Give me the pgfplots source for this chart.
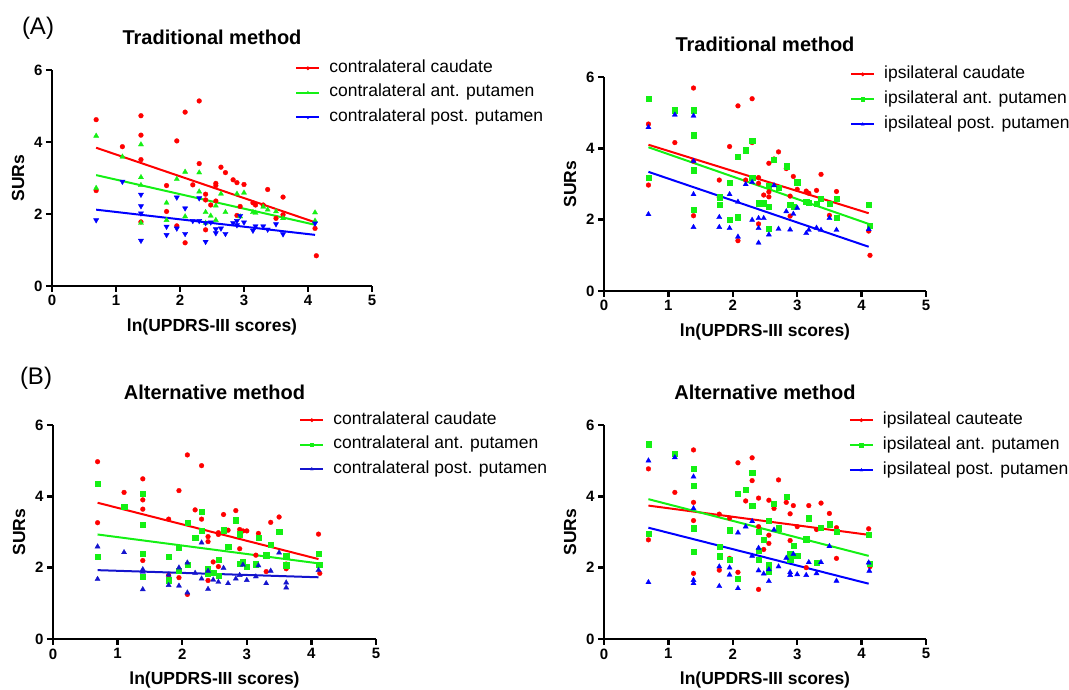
\documentclass[border=0pt]{standalone}
\usepackage{fontspec}
\setmainfont{Liberation Sans}
\usepackage{pgfplots}
\pgfplotsset{compat=1.18}

\definecolor{cred}{RGB}{255,0,0}
\definecolor{cgreen}{RGB}{20,240,20}
\definecolor{cblue}{RGB}{0,0,255}
\definecolor{cdblue}{RGB}{20,20,205}

\pgfplotsset{
  prism/.style={
    anchor=origin, clip=false,
    xmin=0, xmax=5, ymin=0, ymax=6,
    xtick={0,1,2,3,4,5}, ytick={0,2,4,6},
    axis x line*=bottom, axis y line*=left,
    axis line style={-, line width=2.4pt},
    tick align=outside, major tick length=6pt,
    every tick/.style={black, line width=2.4pt},
    tick label style={font=\fontsize{15}{15}\selectfont\bfseries},
    /pgf/number format/assume math mode=true,
    xlabel={ln(UPDRS-III scores)}, ylabel={SURs},
    every axis x label/.style={at={([yshift=-41pt]axis cs:2.5,0)}, anchor=center,
      font=\fontsize{17.5}{18}\selectfont\bfseries},
    every axis y label/.style={at={([xshift=-34pt]axis cs:0,3)}, anchor=center, rotate=90,
      font=\fontsize{17.5}{18}\selectfont\bfseries},
    every axis title/.style={at={([yshift=32.5pt]axis cs:2.5,6)}, anchor=center,
      font=\fontsize{20}{20}\selectfont\bfseries},
    legend cell align=left,
    legend style={draw=none, fill=none, anchor=north west, inner sep=0pt,
      font=\fontsize{17.5}{20}\selectfont, column sep=7pt, row sep=4.5pt,
      nodes={inner sep=2pt, text height=12pt, text depth=4pt}},
  },
  pts/.style={forget plot, only marks, mark=*, mark size=2.4pt, #1, mark options={fill=#1, draw=#1, line width=0.3pt}},
  regline/.style 2 args={#1, line width=2pt, no marks,
    legend image code/.code={\draw[draw=#1, line width=2pt] (0pt,0pt) -- (23pt,0pt);
      \draw[draw=#1, fill=#1, line width=0.3pt] plot[mark=#2, mark size=1.8pt] coordinates {(11.5pt,0pt)};}},
}

\begin{document}
\begin{tikzpicture}
\useasboundingbox (0,0) rectangle (1069pt,690pt);

\node[font=\fontsize{24}{24}\selectfont] at (38pt,662pt) {(A)};
\node[font=\fontsize{24}{24}\selectfont] at (36pt,312pt) {(B)};

% (A) contralateral, traditional
\begin{axis}[prism, x=64pt, y=36pt, at={(52pt,404pt)},
  title={Traditional method},
  legend style={at={(axis cs:3.80,6.33)}}]
\addplot[pts=cred] coordinates {
(0.69,4.62) (0.69,2.65) (1.10,3.87) (1.39,4.73) (1.39,4.19) (1.39,3.51) (1.39,1.78)
(1.79,2.79) (1.79,2.07) (1.95,4.03) (1.95,1.67) (2.08,4.83) (2.08,1.20) (2.20,2.81)
(2.30,5.14) (2.30,3.40) (2.40,2.55) (2.40,2.39) (2.40,1.56) (2.48,2.25) (2.56,2.85)
(2.56,2.79) (2.56,2.36) (2.64,3.30) (2.71,3.15) (2.83,2.95) (2.89,2.87) (2.94,2.21)
(2.89,1.96) (3.00,2.82) (3.14,2.31) (3.18,2.25) (3.30,2.25) (3.37,2.68) (3.50,1.88)
(3.61,2.47) (3.61,1.98) (4.11,1.60) (4.13,0.84)};
\addplot[pts=cgreen, mark=triangle*, mark size=3pt] coordinates {
(0.69,4.17) (0.69,2.72) (1.10,3.59) (1.39,3.93) (1.39,3.02) (1.39,2.80) (1.39,1.75)
(1.79,2.31) (1.79,1.83) (1.95,2.97) (2.08,3.17) (2.08,1.93) (2.30,3.15) (2.30,2.62)
(2.40,2.05) (2.40,1.75) (2.48,1.95) (2.56,2.23) (2.56,1.83) (2.64,2.56) (2.71,2.05)
(2.89,2.56) (2.94,1.93) (3.00,2.59) (3.14,2.05) (3.18,2.03) (3.30,2.20) (3.37,2.12)
(3.50,2.07) (3.61,1.88) (4.11,2.04) (4.11,1.81)};
\addplot[pts=cblue, mark=triangle*, mark size=3pt, mark options={rotate=180}] coordinates {
(0.69,1.83) (1.10,2.90) (1.39,2.54) (1.39,2.22) (1.39,2.02) (1.39,1.26) (1.79,1.65)
(1.79,1.42) (1.95,2.46) (1.95,1.60) (2.08,2.16) (2.08,1.45) (2.20,1.81) (2.30,2.44)
(2.30,1.81) (2.40,1.75) (2.40,1.23) (2.48,1.77) (2.56,1.58) (2.56,1.47) (2.64,1.60)
(2.71,1.45) (2.83,1.75) (2.89,1.81) (2.89,1.69) (2.94,1.95) (3.00,1.77) (3.14,1.54)
(3.18,1.66) (3.30,1.66) (3.37,1.57) (3.50,1.72) (3.61,1.44) (4.11,1.74)};
\addplot[regline={cred}{*}] coordinates {(0.69,3.84) (4.11,1.77)};
\addlegendentry{contralateral caudate}
\addplot[regline={cgreen}{triangle*}] coordinates {(0.69,3.08) (4.11,1.70)};
\addlegendentry{contralateral ant. putamen}
\addplot[regline={cblue}{triangle*, mark options={rotate=180}}] coordinates {(0.69,2.12) (4.11,1.42)};
\addlegendentry{contralateral post. putamen}
\end{axis}

% (A) ipsilateral, traditional
\begin{axis}[prism, x=64.4pt, y=35.67pt, at={(604pt,399pt)},
  title={Traditional method},
  legend style={at={(axis cs:3.82,6.36)}, row sep=5pt}]
\addplot[pts=cred] coordinates {
(0.69,4.68) (0.69,2.97) (1.10,4.16) (1.39,5.69) (1.39,3.64) (1.39,3.36) (1.39,2.11)
(1.79,3.11) (1.79,2.63) (1.95,4.05) (1.95,1.99) (2.08,5.19) (2.08,1.41) (2.20,3.11)
(2.30,5.39) (2.30,4.16) (2.40,3.18) (2.40,3.02) (2.40,1.88) (2.48,2.69) (2.56,3.58)
(2.56,2.78) (2.56,2.64) (2.64,3.70) (2.71,3.90) (2.83,3.43) (2.89,2.66) (2.89,2.10)
(2.94,3.21) (3.00,2.85) (3.14,2.80) (3.18,2.74) (3.30,2.82) (3.37,3.27) (3.50,2.12)
(3.61,2.79) (3.61,2.58) (4.11,1.68) (4.13,1.00)};
\addplot[pts=cgreen, mark=square*, mark size=2.6pt] coordinates {
(0.69,5.39) (0.69,3.17) (1.10,5.07) (1.39,5.07) (1.39,4.37) (1.39,3.39) (1.39,2.29)
(1.79,2.43) (1.79,2.63) (1.95,3.04) (1.95,2.01) (2.08,3.77) (2.08,2.07) (2.20,3.95)
(2.30,4.22) (2.30,3.18) (2.40,2.46) (2.48,2.46) (2.56,2.96) (2.56,2.36) (2.56,1.74)
(2.64,3.69) (2.71,2.90) (2.83,3.50) (2.89,2.42) (2.94,2.37) (3.00,3.05) (3.14,2.50)
(3.18,2.48) (3.30,2.44) (3.37,2.58) (3.50,2.44) (3.61,2.59) (3.61,2.06) (4.11,2.43)
(4.12,1.83)};
\addplot[pts=cblue, mark=triangle*, mark size=3pt] coordinates {
(0.69,4.59) (0.69,2.15) (1.10,4.94) (1.39,4.91) (1.39,3.64) (1.39,2.71) (1.39,1.79)
(1.79,2.07) (1.79,1.79) (1.95,2.71) (1.95,1.76) (2.08,2.50) (2.08,1.52) (2.20,2.99)
(2.30,3.05) (2.30,1.99) (2.40,2.04) (2.40,1.76) (2.40,1.35) (2.48,2.04) (2.56,1.58)
(2.64,2.96) (2.71,1.74) (2.83,2.23) (2.89,1.72) (2.94,2.16) (3.00,2.33) (3.14,1.62)
(3.18,1.71) (3.30,1.77) (3.37,1.71) (3.50,2.04) (3.61,1.71) (4.11,1.73)};
\addplot[regline={cred}{*}] coordinates {(0.69,4.10) (4.11,2.18)};
\addlegendentry{ipsilateral caudate}
\addplot[regline={cgreen}{square*}] coordinates {(0.69,4.03) (4.11,1.88)};
\addlegendentry{ipsilateral ant. putamen}
\addplot[regline={cblue}{triangle*}] coordinates {(0.69,3.34) (4.11,1.24)};
\addlegendentry{ipsilateal post. putamen}
\end{axis}

% (B) contralateral, alternative
\begin{axis}[prism, x=64.6pt, y=35.67pt, at={(53pt,51pt)},
  title={Alternative method},
  legend style={at={(axis cs:3.81,6.42)}}]
\addplot[pts=cred] coordinates {
(0.69,4.97) (0.69,3.26) (1.10,4.11) (1.39,4.49) (1.39,3.90) (1.39,3.64) (1.39,2.20)
(1.79,3.36) (1.79,1.79) (1.95,4.16) (1.95,1.72) (2.08,5.16) (2.08,1.25) (2.20,3.62)
(2.30,4.86) (2.30,3.36) (2.40,2.87) (2.40,2.73) (2.40,1.64) (2.48,2.16) (2.56,2.98)
(2.56,2.93) (2.56,2.03) (2.64,3.49) (2.71,3.05) (2.83,3.60) (2.89,3.07) (2.89,2.53)
(2.94,3.03) (3.00,3.03) (3.14,2.35) (3.18,2.96) (3.30,1.89) (3.37,3.27) (3.50,3.42)
(3.61,2.10) (3.61,1.97) (4.11,2.94) (4.13,1.84)};
\addplot[pts=cgreen, mark=square*, mark size=2.6pt] coordinates {
(0.69,4.35) (0.69,2.31) (1.10,3.71) (1.39,4.07) (1.39,3.21) (1.39,2.39) (1.39,1.75)
(1.79,2.31) (1.79,1.65) (1.95,2.57) (1.95,1.92) (2.08,3.27) (2.08,2.09) (2.20,2.85)
(2.30,3.57) (2.30,3.03) (2.40,1.97) (2.40,1.84) (2.48,1.87) (2.56,2.23) (2.56,1.78)
(2.64,3.05) (2.71,2.59) (2.83,3.33) (2.89,2.94) (2.89,2.12) (2.94,2.16) (3.00,2.03)
(3.14,2.10) (3.18,2.84) (3.30,2.35) (3.37,2.64) (3.50,3.02) (3.61,2.32) (3.61,2.07)
(4.11,2.40) (4.12,2.08)};
\addplot[pts=cdblue, mark=triangle*, mark size=3pt] coordinates {
(0.69,2.59) (0.69,1.68) (1.10,2.43) (1.39,1.95) (1.39,1.88) (1.39,1.39) (1.79,1.80)
(1.79,1.51) (1.95,2.00) (1.95,1.49) (2.08,2.14) (2.08,1.30) (2.20,1.85) (2.30,2.70)
(2.30,1.69) (2.40,1.91) (2.40,1.40) (2.48,1.66) (2.56,1.60) (2.64,1.99) (2.71,1.56)
(2.83,1.69) (2.89,1.79) (2.94,2.08) (3.00,1.65) (3.14,1.75) (3.18,2.06) (3.30,1.56)
(3.37,1.91) (3.50,2.42) (3.61,1.58) (3.61,1.44) (4.11,1.93)};
\addplot[regline={cred}{*}] coordinates {(0.69,3.82) (4.11,2.24)};
\addlegendentry{contralateral caudate}
\addplot[regline={cgreen}{square*}] coordinates {(0.69,2.93) (4.11,2.12)};
\addlegendentry{contralateral ant. putamen}
\addplot[regline={cdblue}{triangle*}] coordinates {(0.69,1.93) (4.11,1.73)};
\addlegendentry{contralateral post. putamen}
\end{axis}

% (B) ipsilateral, alternative
\begin{axis}[prism, x=64.4pt, y=35.67pt, at={(604pt,51pt)},
  title={Alternative method},
  legend style={at={(axis cs:3.80,6.42)}, row sep=5pt}]
\addplot[pts=cred] coordinates {
(0.69,4.77) (0.69,2.78) (1.10,4.11) (1.39,5.30) (1.39,3.83) (1.39,3.32) (1.39,1.84)
(1.79,3.50) (1.79,1.93) (1.95,3.39) (1.95,2.26) (2.08,4.94) (2.08,1.87) (2.20,3.87)
(2.30,5.08) (2.30,4.44) (2.40,3.95) (2.40,3.15) (2.40,1.39) (2.48,2.51) (2.56,3.89)
(2.56,2.91) (2.56,2.68) (2.64,3.66) (2.71,4.46) (2.83,3.83) (2.89,3.51) (2.89,2.76)
(2.94,3.74) (3.00,3.15) (3.14,2.00) (3.18,3.74) (3.30,3.07) (3.37,3.81) (3.50,3.52)
(3.61,3.12) (3.61,2.26) (4.11,3.09) (4.13,2.03)};
\addplot[pts=cgreen, mark=square*, mark size=2.6pt] coordinates {
(0.69,5.46) (0.69,2.96) (1.10,5.19) (1.39,4.77) (1.39,4.29) (1.39,3.11) (1.39,2.45)
(1.79,2.58) (1.79,2.32) (1.95,3.05) (1.95,2.22) (2.08,4.07) (2.08,1.69) (2.20,4.18)
(2.30,4.66) (2.30,3.73) (2.40,3.02) (2.40,2.48) (2.40,2.22) (2.48,2.78) (2.56,3.32)
(2.56,2.07) (2.56,1.89) (2.64,3.80) (2.71,3.11) (2.83,3.99) (2.89,2.40) (2.89,2.22)
(2.94,2.61) (3.00,2.33) (3.14,2.80) (3.18,3.39) (3.30,2.15) (3.37,3.13) (3.50,3.22)
(3.61,3.01) (4.11,2.92) (4.12,2.12)};
\addplot[pts=cblue, mark=triangle*, mark size=3pt] coordinates {
(0.69,5.00) (0.69,1.59) (1.10,5.09) (1.39,4.55) (1.39,3.66) (1.39,1.65) (1.39,1.56)
(1.79,2.03) (1.79,1.48) (1.95,2.00) (1.95,1.80) (2.08,2.98) (2.08,1.42) (2.20,3.15)
(2.30,3.30) (2.30,2.33) (2.40,2.55) (2.40,1.92) (2.48,1.83) (2.56,1.95) (2.56,1.62)
(2.64,3.06) (2.71,2.03) (2.83,2.27) (2.89,1.87) (2.89,1.79) (2.94,2.38) (3.00,1.81)
(3.14,1.79) (3.18,2.15) (3.30,1.84) (3.37,2.15) (3.50,2.60) (3.61,1.63) (4.11,2.14)
(4.12,1.91)};
\addplot[regline={cred}{*}] coordinates {(0.69,3.74) (4.11,2.92)};
\addlegendentry{ipsilateal cauteate}
\addplot[regline={cgreen}{square*}] coordinates {(0.69,3.92) (4.11,2.33)};
\addlegendentry{ipsilateal ant. putamen}
\addplot[regline={cblue}{triangle*}] coordinates {(0.69,3.12) (4.11,1.55)};
\addlegendentry{ipsilateal post. putamen}
\end{axis}
\end{tikzpicture}
\end{document}
